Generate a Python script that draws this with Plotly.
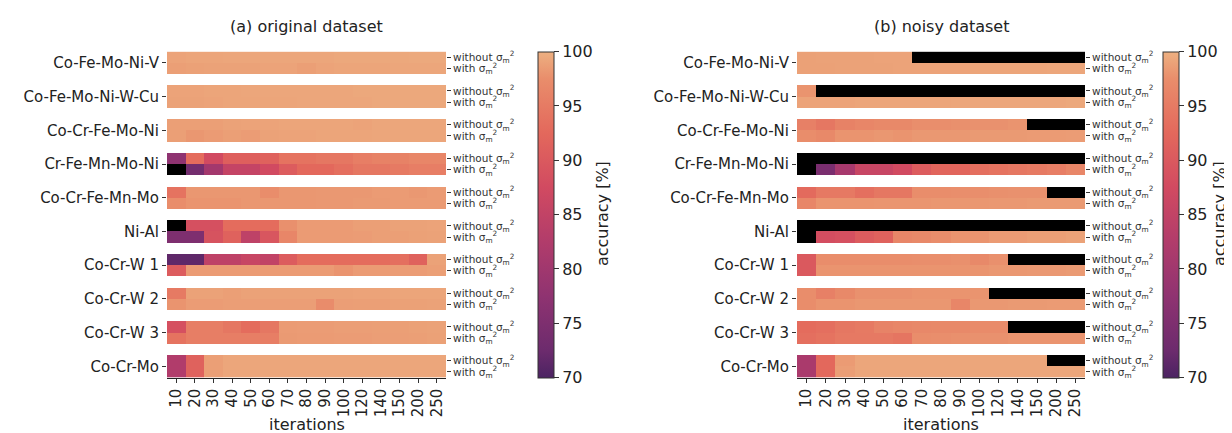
import plotly.graph_objects as go

iterations = ["10", "20", "30", "40", "50", "60", "70", "80", "90", "100", "120", "140", "150", "200", "250"]
datasets = ["Co-Fe-Mo-Ni-V", "Co-Fe-Mo-Ni-W-Cu", "Co-Cr-Fe-Mo-Ni", "Cr-Fe-Mn-Mo-Ni", "Co-Cr-Fe-Mn-Mo",
            "Ni-Al", "Co-Cr-W 1", "Co-Cr-W 2", "Co-Cr-W 3", "Co-Cr-Mo"]
row_labels = ["without σ<sub>m</sub><sup>2</sup>", "with σ<sub>m</sub><sup>2</sup>"]
N = None

# (a) original dataset  (None = no value, drawn black)
orig_without = [
    [99.1, 99.2, 99.2, 99.3, 99.3, 99.3, 99.3, 99.3, 99.3, 99.4, 99.4, 99.4, 99.4, 99.5, 99.5],
    [99.1, 99.1, 99.2, 99.2, 99.3, 99.3, 99.3, 99.3, 99.3, 99.3, 99.4, 99.4, 99.4, 99.4, 99.4],
    [98.8, 98.8, 98.8, 99.0, 99.1, 99.1, 99.2, 99.2, 99.2, 99.2, 99.1, 99.3, 99.3, 99.3, 99.3],
    [77.5, 93.0, 87.5, 91.0, 91.0, 91.5, 94.0, 94.0, 94.5, 94.5, 95.5, 96.0, 96.0, 96.5, 96.5],
    [94.0, 98.2, 98.2, 98.2, 98.2, 97.5, 98.2, 98.2, 98.3, 98.3, 98.3, 98.5, 98.5, 98.3, 98.5],
    [N, 88.5, 88.5, 93.0, 93.0, 93.0, 97.7, 98.5, 98.5, 98.5, 98.8, 98.8, 99.0, 99.0, 99.1],
    [71.5, 71.5, 84.5, 84.5, 86.0, 85.0, 90.5, 93.0, 93.0, 93.0, 93.0, 93.0, 93.5, 91.5, 99.0],
    [95.0, 99.0, 99.0, 98.8, 99.0, 99.0, 99.0, 99.0, 99.0, 99.0, 99.1, 99.1, 99.2, 99.2, 99.2],
    [88.5, 95.5, 95.5, 94.5, 93.0, 94.5, 98.5, 98.6, 98.6, 98.7, 98.7, 98.8, 98.8, 98.9, 99.0],
    [82.5, 91.5, 98.8, 99.3, 99.3, 99.3, 99.3, 99.3, 99.3, 99.3, 99.3, 99.3, 99.3, 99.3, 99.3],
]
orig_with = [
    [98.8, 98.9, 99.0, 99.0, 99.0, 99.1, 99.1, 98.8, 99.1, 99.2, 99.2, 99.2, 99.3, 99.3, 99.3],
    [99.0, 99.0, 99.1, 99.2, 99.2, 99.2, 99.2, 99.3, 99.3, 99.3, 99.3, 99.4, 99.4, 99.4, 99.4],
    [98.8, 98.2, 98.5, 98.8, 98.6, 99.0, 99.1, 99.1, 99.2, 99.2, 99.2, 99.3, 99.3, 99.3, 99.3],
    [N, 73.5, 80.5, 85.5, 85.5, 87.5, 90.5, 92.5, 92.5, 93.5, 94.5, 94.5, 95.0, 95.5, 95.5],
    [97.5, 98.0, 98.0, 98.0, 98.2, 98.2, 98.2, 98.2, 98.3, 98.3, 98.4, 98.4, 98.5, 98.5, 98.5],
    [75.0, 75.0, 89.0, 91.5, 84.5, 89.5, 96.5, 98.5, 98.5, 98.5, 98.6, 98.8, 98.8, 98.9, 99.0],
    [90.5, 98.5, 98.5, 98.5, 98.5, 98.5, 98.5, 98.5, 98.5, 98.0, 98.5, 98.5, 98.6, 98.6, 98.8],
    [98.0, 98.6, 98.6, 98.7, 98.7, 98.7, 98.7, 98.7, 97.4, 98.7, 98.8, 98.8, 98.9, 98.9, 99.0],
    [94.0, 95.5, 95.5, 95.5, 95.5, 95.5, 98.4, 98.5, 98.5, 98.6, 98.6, 98.7, 98.7, 98.8, 98.9],
    [82.5, 91.5, 98.8, 99.3, 99.3, 99.3, 99.3, 99.3, 99.3, 99.3, 99.3, 99.3, 99.3, 99.3, 99.3],
]

# (b) noisy dataset
noisy_without = [
    [98.9, 99.0, 99.0, 99.0, 99.1, 99.1, N, N, N, N, N, N, N, N, N],
    [98.0, N, N, N, N, N, N, N, N, N, N, N, N, N, N],
    [95.8, 94.5, 96.0, 96.5, 97.0, 97.0, 97.6, 97.6, 97.7, 97.8, 97.8, 98.0, N, N, N],
    [N, N, N, N, N, N, N, N, N, N, N, N, N, N, N],
    [92.8, 94.8, 94.8, 93.5, 94.5, 94.5, 97.5, 97.5, 97.6, 97.6, 97.7, 97.8, 97.8, N, N],
    [N, N, N, N, N, N, N, N, N, N, N, N, N, N, N],
    [90.0, 97.5, 97.5, 97.5, 97.5, 97.5, 97.6, 97.6, 97.7, 97.0, 97.7, N, N, N, N],
    [97.5, 95.8, 97.0, 97.8, 97.8, 97.8, 98.0, 98.0, 98.0, 98.0, N, N, N, N, N],
    [93.0, 93.5, 94.5, 95.0, 96.2, 96.5, 96.8, 97.0, 97.0, 97.2, 97.2, N, N, N, N],
    [81.5, 92.5, 98.5, 99.3, 99.3, 99.3, 99.3, 99.3, 99.3, 99.3, 99.3, 99.3, 99.3, N, N],
]
noisy_with = [
    [98.9, 98.9, 99.0, 99.0, 99.0, 99.1, 99.1, 99.1, 99.1, 99.2, 99.2, 99.2, 99.2, 99.3, 99.3],
    [99.1, 99.1, 99.1, 99.2, 99.2, 99.2, 99.2, 99.2, 99.3, 99.3, 99.3, 99.3, 99.3, 99.3, 99.4],
    [97.5, 97.0, 98.0, 98.0, 98.2, 98.0, 98.3, 98.3, 98.3, 98.4, 98.4, 98.4, 98.5, 98.5, 98.6],
    [N, 74.5, 81.0, 86.0, 86.0, 87.5, 90.5, 92.0, 92.0, 93.5, 94.0, 94.5, 95.0, 95.5, 96.5],
    [96.5, 98.0, 98.0, 98.0, 98.1, 98.1, 98.1, 98.2, 98.2, 98.2, 98.3, 98.3, 98.4, 98.4, 98.4],
    [N, 88.0, 88.5, 90.5, 91.5, 96.5, 97.0, 97.5, 98.0, 98.0, 98.5, 98.5, 98.8, 98.8, 99.0],
    [90.0, 98.0, 98.0, 98.0, 98.0, 98.0, 98.0, 98.0, 98.0, 98.0, 98.2, 98.2, 98.3, 98.3, 98.4],
    [97.5, 98.0, 98.0, 98.2, 98.2, 98.2, 98.2, 98.2, 96.5, 98.3, 98.3, 98.4, 98.4, 98.5, 98.5],
    [93.5, 94.0, 94.8, 94.8, 94.8, 94.3, 97.5, 97.6, 97.7, 97.8, 97.8, 98.0, 98.0, 98.0, 98.0],
    [81.5, 92.5, 98.7, 99.3, 99.3, 99.3, 99.3, 99.3, 99.3, 99.3, 99.3, 99.3, 99.3, 99.3, 99.3],
]

# seaborn "flare" reversed (low = dark purple, high = peach)
flare_r = [[0.0, "#4B2362"], [0.0833, "#6C2B6D"], [0.25, "#8F3371"], [0.4167, "#B13C6B"],
           [0.5833, "#D14A61"], [0.75, "#E3685C"], [0.9167, "#E98D6B"], [1.0, "#EDB081"]]

W, H = 1232, 433
FONT = "DejaVu Sans"
TXT = "#222222"


def build(without, with_):
    z, zb = [], []
    nrows = len(datasets)
    for i in range(nrows):
        for row in (without[i], with_[i]):
            z.append(list(row))
            zb.append([1 if v is None else None for v in row])
        if i < nrows - 1:
            z.append([None] * len(iterations))
            zb.append([None] * len(iterations))
    return z, zb


nrows_total = 3 * len(datasets) - 1
yvals = list(range(nrows_total))
left_ticks = [3 * i + 0.5 for i in range(len(datasets))]
right_ticks, right_text = [], []
for i in range(len(datasets)):
    right_ticks += [3 * i, 3 * i + 1]
    right_text += row_labels

ytop, ybot = 42, 371
fig = go.Figure()
panels = [
    (orig_without, orig_with, "x", "y", "y2", 530),
    (noisy_without, noisy_with, "x2", "y3", "y4", 1155),
]
for without, with_, xa, ya, ya2, cbx in panels:
    z, zb = build(without, with_)
    fig.add_trace(go.Heatmap(
        z=z, x=iterations, y=yvals, xaxis=xa, yaxis=ya, zmin=70, zmax=100,
        colorscale=flare_r, hoverongaps=False,
        colorbar=dict(x=cbx / W, xanchor="left", xpad=0, ypad=0, thickness=16,
                      len=(ybot - ytop) / H, lenmode="fraction",
                      y=1 - (ytop + ybot) / 2 / H, yanchor="middle",
                      outlinewidth=1, outlinecolor="#333",
                      tickvals=[70, 75, 80, 85, 90, 95, 100], ticks="outside", ticklen=5,
                      tickcolor="#333", tickfont=dict(size=16, color=TXT, family=FONT))))
    fig.add_trace(go.Heatmap(
        z=zb, x=iterations, y=yvals, xaxis=xa, yaxis=ya2, zmin=0, zmax=1,
        colorscale=[[0, "black"], [1, "black"]], showscale=False, hoverongaps=False))

ydom = [1 - ybot / H, 1 - ytop / H]
yrange = [nrows_total - 0.5, -0.5]
common_y = dict(range=yrange, showgrid=False, zeroline=False, ticks="outside", ticklen=4,
                tickcolor="#333", domain=ydom, showline=False)
layout = dict(
    width=W, height=H, margin=dict(l=0, r=0, t=0, b=0),
    paper_bgcolor="white", plot_bgcolor="white",
    font=dict(family=FONT, color=TXT),
)
for xa, ya, ya2, x0, x1 in [("xaxis", "yaxis", "yaxis2", 159, 438), ("xaxis2", "yaxis3", "yaxis4", 789, 1077)]:
    xname = "x" if xa == "xaxis" else "x2"
    yname = "y" if ya == "yaxis" else "y3"
    layout[xa] = dict(domain=[x0 / W, x1 / W], anchor=yname, type="category",
                      showgrid=False, zeroline=False, showline=True, linecolor="#222", linewidth=1.2,
                      ticks="outside", ticklen=4, tickcolor="#333", tickangle=-90,
                      tickfont=dict(size=15, color=TXT, family=FONT))
    layout[ya] = dict(common_y, anchor=xname, tickvals=left_ticks, ticktext=datasets,
                      tickfont=dict(size=15, color=TXT, family=FONT))
    layout[ya2] = dict(common_y, anchor=xname, overlaying=yname, side="right",
                       tickvals=right_ticks, ticktext=right_text,
                       tickfont=dict(size=10.5, color="#333", family=FONT))
fig.update_layout(**layout)

annots = [
    ("(a) original dataset", (159 + 438) / 2, 17, 16, 0),
    ("(b) noisy dataset", (789 + 1077) / 2, 17, 16, 0),
    ("iterations", (159 + 438) / 2, 418, 16, 0),
    ("iterations", (789 + 1077) / 2, 418, 16, 0),
    ("accuracy [%]", 594, 206, 16, -90),
    ("accuracy [%]", 1211, 206, 16, -90),
]
for text, px, py, fs, ang in annots:
    fig.add_annotation(text=text, x=px / W, y=1 - py / H, xref="paper", yref="paper",
                       xanchor="center", yanchor="middle", showarrow=False, textangle=ang,
                       font=dict(size=fs, color=TXT, family=FONT))

fig.write_html("out.html")
